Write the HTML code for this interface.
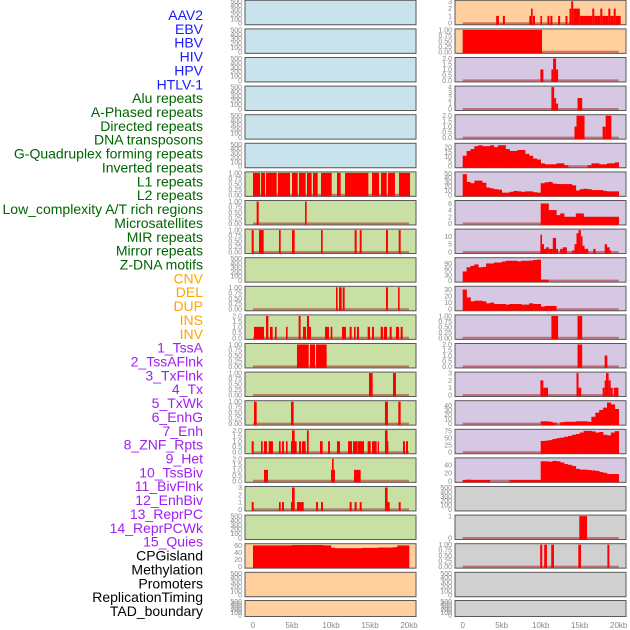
<!DOCTYPE html>
<html><head><meta charset="utf-8">
<style>
html,body{margin:0;padding:0;background:#fff;}
svg{display:block;font-family:"Liberation Sans",sans-serif;}
</style></head>
<body>
<svg id="chart" width="630" height="630" viewBox="0 0 630 630">
<g id="labels"></g>
<g id="panels"></g>
<g id="xaxes"></g>
</svg>
<script>
// ---- labels ----
const labelNames = ["AAV2","EBV","HBV","HIV","HPV","HTLV-1","Alu repeats","A-Phased repeats","Directed repeats","DNA transposons","G-Quadruplex forming repeats","Inverted repeats","L1 repeats","L2 repeats","Low_complexity A/T rich regions","Microsatellites","MIR repeats","Mirror repeats","Z-DNA motifs","CNV","DEL","DUP","INS","INV","1_TssA","2_TssAFlnk","3_TxFlnk","4_Tx","5_TxWk","6_EnhG","7_Enh","8_ZNF_Rpts","9_Het","10_TssBiv","11_BivFlnk","12_EnhBiv","13_ReprPC","14_ReprPCWk","15_Quies","CPGisland","Methylation","Promoters","ReplicationTiming","TAD_boundary"];
const labelGroups = [0,0,0,0,0,0,1,1,1,1,1,1,1,1,1,1,1,1,1,2,2,2,2,2,3,3,3,3,3,3,3,3,3,3,3,3,3,3,3,4,4,4,4,4];
const groupColors = ["#1a1aff","#006400","#ffa500","#a020f0","#000000"];

// ---- x axis ----
const xTickKb = [0,5,10,15,20];
const xTickLabels = ["0","5kb","10kb","15kb","20kb"];

// ---- track data: segments [startKb, endKb, value] ----
const leftL1 = [[0,0.9,1],[1.03,1.54,1],[1.67,3.03,1],[3.2,4.74,1],[5.0,5.73,1],[5.9,6.75,1],[6.92,7.52,1],[7.69,8.29,1],[8.72,10.09,1],[10.77,11.24,1],[11.8,14.79,1],[15.26,16.15,1],[16.41,17.14,1],[17.31,18.2,1],[18.72,20.13,1]];
const leftRow7 = [[0.47,0.73,1],[6.67,6.88,1]];
const leftRow8 = [[-0.17,0.09,1],[0.77,1.37,1],[3.33,3.55,1],[5.0,5.34,1],[8.72,8.93,1],[13.03,13.29,1],[13.68,13.93,1],[17.05,17.3,1],[18.68,18.93,1]];
const leftRow10 = [[10.64,10.85,1],[11.03,11.37,1],[11.5,11.75,1],[17.05,17.3,1],[18.6,18.8,1]];
const leftRow11 = [[0.13,1.41,1],[1.67,1.97,2],[2.18,2.52,1],[2.82,3.03,1],[4.23,4.44,1],[5.85,6.11,2],[6.41,6.79,1],[6.92,7.18,2],[7.18,7.44,1],[9.23,9.74,1],[9.96,10.17,1],[11.41,11.92,1],[12.39,12.65,1],[12.95,13.16,1],[13.33,13.59,1],[14.7,15.0,1],[15.26,15.51,1],[16.37,16.67,1],[16.79,17.18,1],[17.52,17.78,1],[18.33,18.72,1],[18.93,19.19,1]];
const leftRow12 = [[5.64,7.14,1],[7.31,7.95,1],[8.08,9.44,1]];
const leftRow13 = [[14.87,15.34,1],[17.95,18.33,1]];
const leftRow14 = [[0.13,0.47,1],[4.87,5.21,1],[16.92,17.3,1],[18.63,18.93,1]];
const leftRow15 = [[-0.17,0.09,1],[1.03,1.24,1],[1.41,1.79,1],[2.01,2.56,1],[3.33,3.55,1],[3.72,3.97,1],[4.23,4.44,1],[4.87,5.6,1],[5.0,5.34,2],[5.9,6.15,1],[6.28,6.75,1],[6.92,7.14,2],[8.59,8.93,1],[9.62,9.87,1],[10.77,11.15,1],[12.18,12.69,1],[12.82,13.38,1],[13.42,14.23,1],[14.7,15.09,1],[15.26,15.85,1],[15.98,16.15,1],[16.92,17.35,1],[16.92,17.26,2],[19.23,19.49,1],[19.62,19.87,1]];
const leftRow16 = [[1.41,1.92,1],[10.0,10.51,1],[10.13,10.34,2],[12.95,13.8,1]];
const leftRow17 = [[-0.17,0.09,1],[3.33,3.55,1],[3.72,3.97,1],[4.87,5.34,1],[5.0,5.34,3],[5.64,6.5,1],[8.08,8.33,1],[8.72,8.97,1],[12.39,12.65,1],[13.03,13.29,1],[13.68,13.93,1],[16.92,17.52,1],[16.92,17.26,3],[18.68,18.93,1]];
const rightRow0 = [[4.29,4.64,1],[5.15,5.41,1],[8.54,8.76,1],[8.76,8.97,2],[9.01,9.27,1],[9.96,10.17,1],[10.86,11.12,1],[11.24,11.5,1],[12.23,12.49,1],[13.18,13.43,1],[13.69,13.91,2],[13.91,14.16,3],[14.16,15.02,2],[15.02,16.61,1],[16.61,16.87,2],[16.87,17.64,1],[17.64,17.9,2],[17.9,18.67,1],[18.67,18.93,2],[18.93,19.36,1],[19.36,19.61,2],[19.61,20.26,1]];
const rightRow1 = [[0,10.17,1]];
const rightRow2 = [[9.96,10.34,1],[11.37,11.59,1],[11.59,11.97,2],[11.97,12.23,1]];
const rightRow3 = [[11.37,11.72,4],[11.72,11.97,2],[11.97,12.23,1],[14.72,15.32,2]];
const rightRow4 = [[14.33,14.59,1],[14.59,15.62,2],[17.94,18.33,1],[18.33,19.06,2]];
const rightRow8 = [[9.96,10.17,11],[10.17,10.43,5],[10.43,10.69,2],[10.69,11.03,3],[11.03,11.55,2],[11.55,11.97,9],[11.97,12.23,2],[12.49,12.83,2],[12.83,13.35,3],[14.03,14.33,1],[14.33,14.59,5],[14.59,14.85,12],[14.85,15.15,14],[15.15,15.36,10],[15.36,15.62,4],[15.62,16.09,2],[16.74,17.04,2],[18.2,18.5,5],[18.5,18.84,3],[18.84,19.01,1]];
const rightRow11 = [[11.37,12.23,1],[14.72,15.32,1]];
const rightRow12 = [[14.72,15.32,2],[18.2,18.54,1]];
const rightRow13 = [[9.96,10.34,2],[10.34,10.94,1],[14.59,14.85,3],[14.85,15.19,1],[17.94,18.2,1],[18.2,18.37,2],[18.37,18.71,3],[18.71,18.97,2],[18.97,19.23,1],[19.36,19.96,1]];
const rightRow18 = [[14.95,15.94,1]];
const rightRow19 = [[9.93,10.2,1],[10.45,10.8,1],[11.35,11.7,1],[14.82,15.17,1],[18.55,18.8,1]];

// ---- track data: values per 0.5kb bin (40 bins, 0-20kb) ----
const rightRow5Bins = [11,16,18,21,22,21,21,22,20,22,22,18,16,16,17,17,13,11,8,7,3,2,2,2,3,3,1,0,0,0,0,0,1,3,3,2,2,3,3,4];
const rightRow6Bins = [48,30,27,33,33,28,17,15,13,12,5,5,7,9,8,7,8,8,6,5,27,29,30,26,25,25,25,25,22,10,13,14,13,11,11,11,9,8,8,8];
const rightRow7Bins = [0,0,0,0,0,0,0,0,0,0,0,0,0,0,0,0,0,0,0,0,6,6,4,4,2.5,3,2,2,2,3,3,2,2,2,2,2,2,2,2,2];
const rightRow9Bins = [48,70,78,85,70,72,90,90,95,95,100,104,104,104,101,104,104,105,108,110,5,5,0,0,0,0,0,0,0,0,0,0,0,0,0,0,0,0,0,0];
const rightRow10Bins = [30,18,12,13,13,12,9,10,8,8,8,7,8,8,8,7,7,9,8,8,4,5,5,5,0,0,0,0,0,0,0,0,0,0,0,0,0,0,0,0];
const rightRow14Bins = [0,0,0,0,0,0,0,0,0,0,0,0,0,0,0,0,0,0,0,0,5,5,4,2,0,3,4,4,4,5,5,5,4,15,24,30,35,46,42,32];
const rightRow15Bins = [0,0,0,0,0,0,0,0,0,0,0,0,0,0,0,0,0,0,0,0,40,41,43,47,50,52,55,58,62,65,70,76,76,74,70,72,62,60,70,75];
const rightRow16Bins = [2,3,2,2,2,2,2,0,0,0,0,0,2,2,2,2,2,2,2,2,49,49,48,50,49,46,42,40,37,30,28,28,27,26,25,22,20,17,17,17];
const leftCpgBins = [60,60,60,60,60,60,60,60,60,60,61,61,61,61,61,61,61,61,60,60,53,52,52,52,52,52,52,52,53,53,53,53,54,54,54,54,55,60,60,60];

// ---- tick label sets ----
const ticks500 = ["500","400","300","200","100","0"];
const ticks1 = ["1.00","0.75","0.50","0.25","0.00"];
const ticks2 = ["2.0","1.5","1.0","0.5","0.0"];
const ticks3 = ["3","2","1","0"];
const ticks4 = ["4","3","2","1","0"];

const BG = {blue:"#c8e3eb", green:"#c8e0a4", peach:"#ffd09e", lav:"#d6c8e2", gray:"#d0d0d0"};
const leftBg = ["blue","blue","blue","blue","blue","blue","green","green","green","green","green","green","green","green","green","green","green","green","green","peach","peach","peach"];
const rightBg = ["peach","peach","lav","lav","lav","lav","lav","lav","lav","lav","lav","lav","lav","lav","lav","lav","lav","gray","gray","gray","gray","gray"];

// track specs: [max, tickValues, tickLabels, segs, bins]
const L = {};
L[6]=[1,[1,.75,.5,.25,0],ticks1,leftL1];
L[7]=[1,[1,.75,.5,.25,0],ticks1,leftRow7];
L[8]=[1,[1,.75,.5,.25,0],ticks1,leftRow8];
L[10]=[1,[1,.75,.5,.25,0],ticks1,leftRow10];
L[11]=[2,[2,1.5,1,.5,0],ticks2,leftRow11];
L[12]=[1,[1,.75,.5,.25,0],ticks1,leftRow12];
L[13]=[1,[1,.75,.5,.25,0],ticks1,leftRow13];
L[14]=[1,[1,.75,.5,.25,0],ticks1,leftRow14];
L[15]=[2,[2,1.5,1,.5,0],ticks2,leftRow15];
L[16]=[2,[2,1.5,1,.5,0],ticks2,leftRow16];
L[17]=[3,[3,2,1,0],ticks3,leftRow17];
L[19]=[62,[60,40,20,0],["60","40","20","0"],null,leftCpgBins];
const R = {};
R[0]=[3,[3,2,1,0],ticks3,rightRow0];
R[1]=[1,[1,.75,.5,.25,0],ticks1,rightRow1];
R[2]=[2,[2,1.5,1,.5,0],ticks2,rightRow2];
R[3]=[4,[4,3,2,1,0],ticks4,rightRow3];
R[4]=[2,[2,1.5,1,.5,0],ticks2,rightRow4];
R[5]=[23,[20,15,10,5,0],["20","15","10","5","0"],null,rightRow5Bins];
R[6]=[51,[50,40,30,20,10,0],["50","40","30","20","10","0"],null,rightRow6Bins];
R[7]=[6.6,[6,4,2,0],["6","4","2","0"],null,rightRow7Bins];
R[8]=[14,[10,5,0],["10","5","0"],rightRow8];
R[9]=[115,[90,60,30,0],["90","60","30","0"],null,rightRow9Bins];
R[10]=[33.5,[30,20,10,0],["30","20","10","0"],null,rightRow10Bins];
R[11]=[1,[1,.75,.5,.25,0],ticks1,rightRow11];
R[12]=[2,[2,1.5,1,.5,0],ticks2,rightRow12];
R[13]=[3,[3,2,1,0],ticks3,rightRow13];
R[14]=[48,[40,30,20,10,0],["40","30","20","10","0"],null,rightRow14Bins];
R[15]=[78,[75,50,25,0],["75","50","25","0"],null,rightRow15Bins];
R[16]=[55,[40,20,0],["40","20","0"],null,rightRow16Bins];
R[18]=[1,[1,0],["1","0"],rightRow18];
R[19]=[1,[1,.75,.5,.25,0],ticks1,rightRow19];

const NS="http://www.w3.org/2000/svg";
function mk(tag, attrs, parent){const e=document.createElementNS(NS,tag);for(const k in attrs)e.setAttribute(k,attrs[k]);parent.appendChild(e);return e;}

// labels
const lg=document.getElementById('labels');
labelNames.forEach((n,i)=>{
  const t=mk('text',{x:203,y:(20+13.86*i).toFixed(1),'text-anchor':'end','font-size':'14',fill:groupColors[labelGroups[i]]},lg);
  
  
  t.textContent=n;
});

const cols=[{x:245,w:171,x0:253,bg:leftBg,spec:L,name:'left'},{x:455,w:171,x0:462.7,bg:rightBg,spec:R,name:'right'}];
const KB=7.8;
const pg=document.getElementById('panels');
function rowGeom(r){ if(r===21) return {top:600.5,h:16}; return {top:28.6*r+0.3,h:24.4}; }

cols.forEach(c=>{
  const xs=kb=>c.x0+kb*KB;
  for(let r=0;r<22;r++){
    const g=rowGeom(r);
    const grp=mk('g',{},pg);
    
    
    const spec=c.spec[r];
    const bottom=g.top+g.h;
    const max=spec?spec[0]:500;
    const ys=v=>bottom-1.5-(v/max)*(g.h-2.5);
    mk('rect',{x:c.x+0.5,y:g.top+0.5,width:c.w,height:g.h,fill:'#999'},grp);
    const bgR=mk('rect',{x:c.x,y:g.top,width:c.w,height:g.h,fill:BG[c.bg[r]],stroke:'#5a5a5a','stroke-width':1},grp);
    
    // ticks
    const tv=spec?spec[1]:[500,400,300,200,100,0];
    const tl=spec?spec[2]:ticks500;
    tv.forEach((v,i)=>{
      const t=mk('text',{x:c.x-3,y:(ys(v)+2.5).toFixed(1),'text-anchor':'end','font-size':'7',fill:'#888'},grp);
      
      
      t.textContent=tl[i];
    });
    if(!spec) continue;
    // baseline
    const bl=mk('line',{x1:xs(0),x2:xs(20),y1:ys(0),y2:ys(0),stroke:'rgba(170,0,0,0.45)','stroke-width':2},grp);
    
    
    const clip=v=>Math.max(c.x+0.5,Math.min(c.x+c.w-0.5,v));
    if(spec[3]){
      spec[3].forEach(s=>{
        const x1=clip(xs(s[0])),x2=clip(xs(s[1]));
        const b=mk('rect',{x:x1,y:ys(s[2]),width:Math.max(1.2,x2-x1),height:ys(0)-ys(s[2])+1.5,fill:'#ff0000'},grp);
        
        
      });
    }
    if(spec[4]){
      spec[4].forEach((v,i)=>{
        if(!v) return;
        const x1=clip(xs(i*0.5)),x2=clip(xs(i*0.5+0.5));
        const b=mk('rect',{x:x1,y:ys(v),width:x2-x1+0.3,height:ys(0)-ys(v)+1.5,fill:'#ff0000'},grp);
        
        
      });
    }
  }
  // x axis
  const xg=document.getElementById('xaxes');
  xTickKb.forEach((k,i)=>{
    const t=mk('text',{x:xs(k),y:628,'text-anchor':'middle','font-size':'8',fill:'#888'},xg);
    
    
    t.textContent=xTickLabels[i];
  });
});
</script>
</body></html>
